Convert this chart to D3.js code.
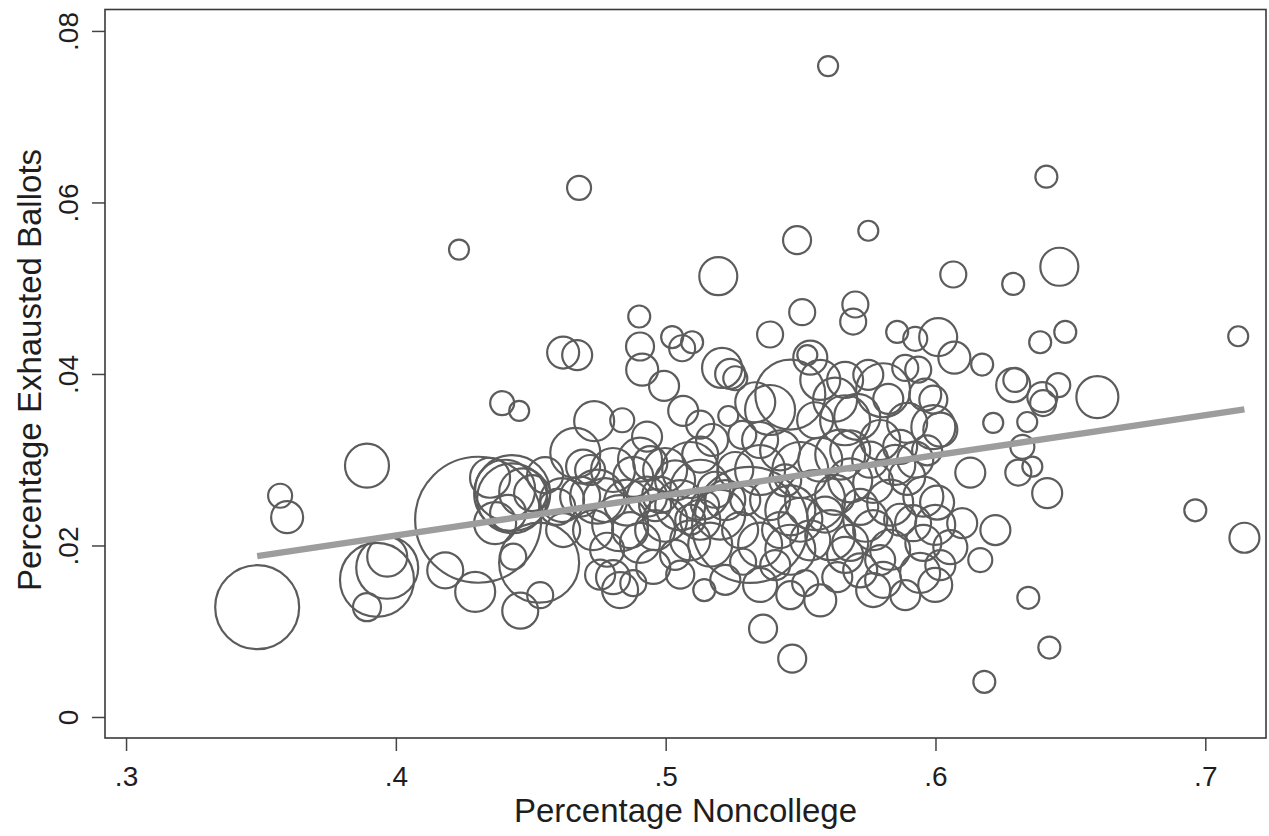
<!DOCTYPE html>
<html>
<head>
<meta charset="utf-8">
<script src="https://cdnjs.cloudflare.com/ajax/libs/d3/7.8.5/d3.min.js"></script>
<style>
body { margin: 0; background: #fff; }
text { font-family: "Liberation Sans", Arial, Helvetica, sans-serif; fill: #1e1e1e; }
</style>
</head>
<body>
<script>
// percentage noncollege (x), percentage exhausted ballots (y), weight (marker area)
var noncollege = [
  0.3486, 0.3571, 0.3597, 0.3893, 0.3893, 0.3968, 0.3968, 0.3930, 0.4234, 0.4679,
  0.4394, 0.4457, 0.4305, 0.4183, 0.4294, 0.4461, 0.4620, 0.4672, 0.4902, 0.4905,
  0.4913, 0.5602, 0.6411, 0.5751, 0.5487, 0.5195, 0.6066, 0.6288, 0.6459, 0.5506,
  0.5703, 0.5695, 0.6481, 0.7122, 0.6600, 0.6455, 0.6963, 0.7145, 0.6414, 0.6344,
  0.6422, 0.6181, 0.5469, 0.5361, 0.5143, 0.5024, 0.5061, 0.5098, 0.5387, 0.5858,
  0.5925, 0.6010, 0.6070, 0.6173, 0.5888, 0.5936, 0.6388, 0.6288, 0.6296, 0.6396,
  0.6399, 0.6214, 0.6340, 0.6322, 0.6307, 0.6359, 0.6129, 0.6099, 0.6222, 0.6166,
  0.5517, 0.5636, 0.5287, 0.4431, 0.4431, 0.4405, 0.4472, 0.4505, 0.4416, 0.4368,
  0.4616, 0.4665, 0.4531, 0.4435, 0.4735, 0.4839, 0.4931, 0.4694, 0.4805, 0.4880,
  0.4943, 0.4746, 0.4683, 0.4857, 0.4931, 0.4831, 0.4731, 0.4905, 0.4783, 0.4961,
  0.4805, 0.4831, 0.4880, 0.4954, 0.4620, 0.4598, 0.4757, 0.4535, 0.4553, 0.4349,
  0.4994, 0.5065, 0.5209, 0.5239, 0.5258, 0.5536, 0.5525, 0.5462, 0.5232, 0.5332,
  0.5387, 0.5573, 0.5628, 0.5665, 0.5554, 0.4998, 0.5091, 0.5128, 0.5054, 0.4998,
  0.5128, 0.5202, 0.5091, 0.5165, 0.5035, 0.5184, 0.4980, 0.5091, 0.5146, 0.5313,
  0.5350, 0.5424, 0.5499, 0.5573, 0.5647, 0.5387, 0.5462, 0.5554, 0.5628, 0.5350,
  0.5462, 0.5536, 0.5610, 0.5665, 0.5258, 0.5295, 0.5406, 0.5284, 0.5172, 0.5128,
  0.5054, 0.5221, 0.5350, 0.5462, 0.5573, 0.5806, 0.5825, 0.5895, 0.5992, 0.6018,
  0.5710, 0.5795, 0.5869, 0.5969, 0.5684, 0.5769, 0.5895, 0.5955, 0.5832, 0.5721,
  0.5917, 0.6006, 0.5769, 0.5684, 0.5832, 0.5955, 0.6055, 0.5721, 0.5806, 0.5943,
  0.5999, 0.5769, 0.5751, 0.5992, 0.5035, 0.4961, 0.5128, 0.5221, 0.5276, 0.5424,
  0.5499, 0.5591, 0.5684, 0.5851, 0.5925, 0.5758, 0.5869, 0.5999, 0.5795, 0.5888,
  0.6018, 0.5740, 0.5665, 0.5962, 0.4776, 0.4868, 0.4720, 0.5350, 0.5443, 0.4905
];
var exhausted = [
  0.0128, 0.0258, 0.0233, 0.0293, 0.0128, 0.0187, 0.0174, 0.0160, 0.0545, 0.0617,
  0.0366, 0.0357, 0.0230, 0.0171, 0.0146, 0.0124, 0.0425, 0.0422, 0.0467, 0.0432,
  0.0405, 0.0759, 0.0630, 0.0567, 0.0556, 0.0514, 0.0516, 0.0505, 0.0525, 0.0472,
  0.0481, 0.0461, 0.0449, 0.0444, 0.0373, 0.0387, 0.0241, 0.0209, 0.0261, 0.0139,
  0.0081, 0.0041, 0.0068, 0.0103, 0.0148, 0.0443, 0.0430, 0.0437, 0.0446, 0.0449,
  0.0441, 0.0443, 0.0419, 0.0411, 0.0407, 0.0405, 0.0437, 0.0387, 0.0393, 0.0373,
  0.0366, 0.0343, 0.0344, 0.0315, 0.0285, 0.0292, 0.0285, 0.0226, 0.0218, 0.0183,
  0.0156, 0.0163, 0.0181, 0.0261, 0.0255, 0.0265, 0.0262, 0.0261, 0.0238, 0.0226,
  0.0253, 0.0308, 0.0180, 0.0187, 0.0345, 0.0346, 0.0327, 0.0292, 0.0288, 0.0280,
  0.0296, 0.0257, 0.0257, 0.0250, 0.0257, 0.0226, 0.0218, 0.0203, 0.0195, 0.0218,
  0.0163, 0.0148, 0.0156, 0.0175, 0.0218, 0.0245, 0.0166, 0.0142, 0.0282, 0.0279,
  0.0386, 0.0357, 0.0407, 0.0400, 0.0395, 0.0419, 0.0422, 0.0376, 0.0351, 0.0367,
  0.0358, 0.0393, 0.0370, 0.0346, 0.0346, 0.0288, 0.0288, 0.0265, 0.0247, 0.0230,
  0.0230, 0.0236, 0.0206, 0.0201, 0.0189, 0.0265, 0.0259, 0.0230, 0.0247, 0.0224,
  0.0288, 0.0311, 0.0288, 0.0300, 0.0306, 0.0253, 0.0241, 0.0253, 0.0259, 0.0201,
  0.0195, 0.0206, 0.0212, 0.0189, 0.0288, 0.0253, 0.0177, 0.0329, 0.0323, 0.0341,
  0.0166, 0.0160, 0.0154, 0.0142, 0.0136, 0.0381, 0.0371, 0.0343, 0.0338, 0.0335,
  0.0350, 0.0323, 0.0315, 0.0311, 0.0311, 0.0273, 0.0280, 0.0257, 0.0250, 0.0245,
  0.0226, 0.0250, 0.0218, 0.0203, 0.0195, 0.0203, 0.0198, 0.0171, 0.0160, 0.0168,
  0.0154, 0.0148, 0.0399, 0.0370, 0.0276, 0.0247, 0.0306, 0.0253, 0.0218, 0.0218,
  0.0230, 0.0236, 0.0276, 0.0294, 0.0300, 0.0300, 0.0230, 0.0224, 0.0183, 0.0142,
  0.0177, 0.0230, 0.0393, 0.0376, 0.0253, 0.0218, 0.0288, 0.0323, 0.0276, 0.0300
];
var weight = [
  1764, 144, 256, 484, 196, 400, 961, 1369, 100, 144,
  144, 100, 3969, 324, 400, 324, 256, 225, 121, 196,
  256, 100, 121, 100, 196, 361, 169, 121, 361, 169,
  169, 169, 121, 100, 441, 144, 121, 225, 225, 121,
  121, 121, 196, 196, 121, 121, 169, 121, 169, 121,
  144, 361, 256, 121, 169, 169, 121, 289, 144, 225,
  169, 100, 100, 144, 169, 100, 225, 225, 225, 144,
  169, 225, 169, 1444, 1225, 900, 576, 324, 324, 441,
  484, 625, 1600, 169, 400, 144, 225, 289, 484, 400,
  289, 729, 400, 529, 400, 784, 400, 400, 289, 400,
  289, 324, 169, 289, 289, 324, 225, 169, 324, 400,
  225, 225, 400, 225, 144, 289, 100, 1225, 100, 400,
  625, 400, 484, 625, 324, 484, 784, 900, 625, 484,
  400, 625, 400, 484, 225, 324, 324, 225, 196, 3364,
  625, 400, 784, 484, 625, 400, 625, 900, 400, 484,
  625, 400, 625, 324, 324, 225, 225, 196, 256, 196,
  196, 225, 289, 196, 256, 729, 225, 400, 484, 289,
  529, 400, 289, 225, 400, 400, 324, 400, 529, 324,
  324, 289, 400, 324, 400, 324, 289, 289, 324, 400,
  289, 289, 225, 196, 400, 256, 324, 400, 324, 324,
  484, 324, 484, 400, 324, 324, 256, 400, 225, 225,
  225, 484, 324, 256, 484, 324, 225, 324, 256, 484
];
var xTicks = [0.3, 0.4, 0.5, 0.6, 0.7];
var yTicks = [0, 0.02, 0.04, 0.06, 0.08];
// linear fit
var fitIntercept = 0.00246, fitSlope = 0.04676;

var margin = {top: 9.5, right: 3, bottom: 98, left: 105},
    width = 1269 - margin.left - margin.right,
    height = 836 - margin.top - margin.bottom;

var x = d3.scaleLinear().domain([0.2922, 0.7225]).range([0, width]);
var y = d3.scaleLinear().domain([-0.00245, 0.0825]).range([height, 0]);
var r = d3.scaleSqrt().domain([0, d3.max(weight)]).range([0, 63]);

function noZero(fmt) {
    return function(d) { return d === 0 ? "0" : d3.format(fmt)(d).replace(/^0/, ""); };
}

var svg = d3.select("body").append("svg")
    .attr("width", width + margin.left + margin.right)
    .attr("height", height + margin.top + margin.bottom)
    .style("display", "block")
    .append("g")
    .attr("transform", "translate(" + margin.left + "," + margin.top + ")");

var data = noncollege.map(function(d, i) {
    return {x: d, y: exhausted[i], w: weight[i]};
});

svg.selectAll(".dot")
    .data(data)
    .enter().append("circle")
    .attr("class", "dot")
    .attr("cx", function(d) { return x(d.x); })
    .attr("cy", function(d) { return y(d.y); })
    .attr("r", function(d) { return r(d.w); })
    .style("fill", "none")
    .style("stroke", "#5c5c5c")
    .style("stroke-width", 2.2);

var ext = d3.extent(noncollege);
svg.append("line")
    .attr("x1", x(ext[0]))
    .attr("y1", y(fitIntercept + fitSlope * ext[0]))
    .attr("x2", x(ext[1]))
    .attr("y2", y(fitIntercept + fitSlope * ext[1]))
    .style("stroke", "#9d9d9d")
    .style("stroke-width", 6.5);

var xAxis = d3.axisBottom(x).tickValues(xTicks).tickSize(13).tickFormat(noZero(".1f"));
var yAxis = d3.axisLeft(y).tickValues(yTicks).tickSize(13).tickFormat(noZero(".2f"));

var gx = svg.append("g")
    .attr("class", "x axis")
    .attr("transform", "translate(0," + height + ")")
    .call(xAxis);
gx.select(".domain").remove();
gx.selectAll("line").style("stroke", "#444").style("stroke-width", 1.5);
gx.selectAll("text")
    .attr("y", 48)
    .attr("dy", null)
    .style("font-size", "28px");

var gy = svg.append("g")
    .attr("class", "y axis")
    .call(yAxis);
gy.select(".domain").remove();
gy.selectAll("line").style("stroke", "#444").style("stroke-width", 1.5);
gy.selectAll("text")
    .attr("x", 0)
    .attr("y", 0)
    .attr("dy", null)
    .attr("text-anchor", "middle")
    .attr("transform", "translate(-27,0) rotate(-90)")
    .style("font-size", "28px");

svg.append("rect")
    .attr("width", width)
    .attr("height", height)
    .style("fill", "none")
    .style("stroke", "#3a3a3a")
    .style("stroke-width", 1.6);

svg.append("text")
    .attr("x", width / 2)
    .attr("y", 812.5)
    .attr("text-anchor", "middle")
    .style("font-size", "33px")
    .text("Percentage Noncollege");

svg.append("text")
    .attr("transform", "translate(-64,360.5) rotate(-90)")
    .attr("text-anchor", "middle")
    .style("font-size", "33px")
    .text("Percentage Exhausted Ballots");
</script>
</body>
</html>
